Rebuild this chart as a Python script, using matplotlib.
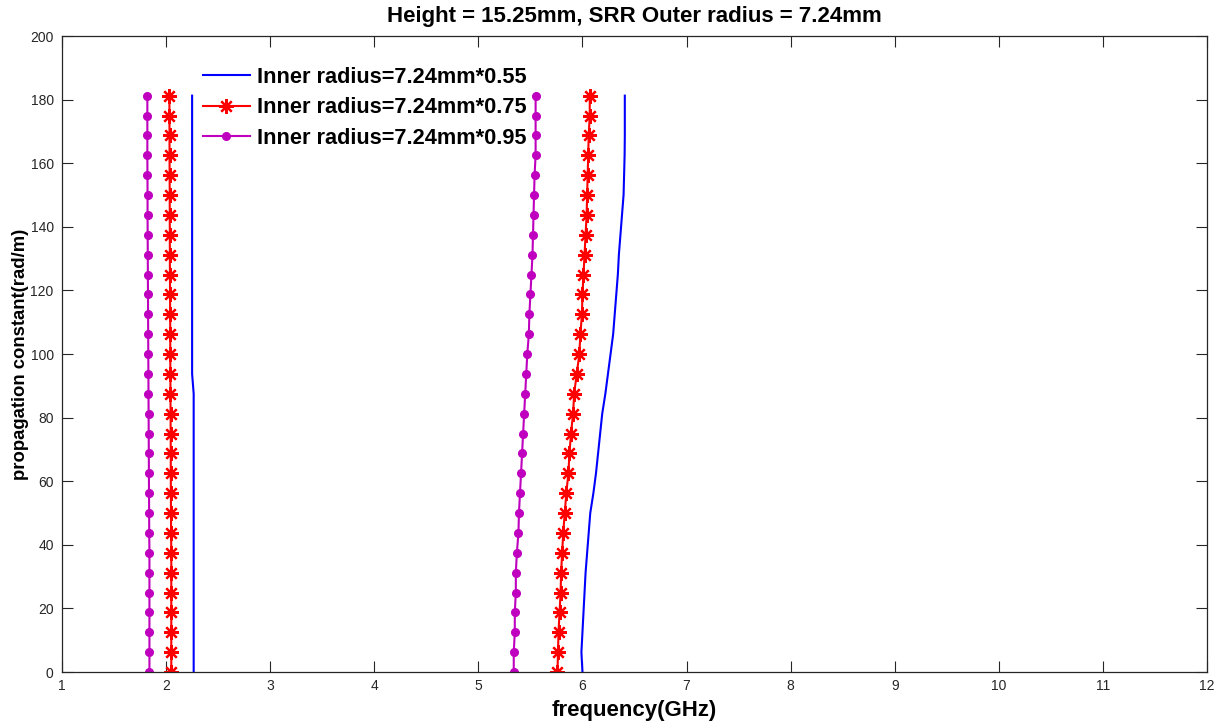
import matplotlib
matplotlib.use("Agg")
import matplotlib.pyplot as plt

plt.rcParams['font.family'] = ['Liberation Sans', 'DejaVu Sans']

# propagation constant (rad/m) sample points
beta = [0.0, 6.25, 12.5, 18.75, 25.0, 31.25, 37.5, 43.75, 50.0, 56.25,
        62.5, 68.75, 75.0, 81.25, 87.5, 93.75, 100.0, 106.25, 112.5, 118.75,
        125.0, 131.25, 137.5, 143.75, 150.0, 156.25, 162.5, 168.75, 175.0, 181.25]

# Inner radius = 7.24mm*0.55 (blue), two branches
f055_a = [2.265, 2.265, 2.265, 2.265, 2.265, 2.265, 2.265, 2.265, 2.265, 2.265,
          2.265, 2.265, 2.265, 2.265, 2.265, 2.25, 2.25, 2.25, 2.25, 2.25,
          2.25, 2.25, 2.25, 2.25, 2.25, 2.25, 2.25, 2.25, 2.25, 2.25]
f055_b = [6.00, 5.99, 6.00, 6.01, 6.02, 6.03, 6.045, 6.06, 6.075, 6.105,
          6.13, 6.15, 6.17, 6.19, 6.22, 6.245, 6.27, 6.295, 6.31, 6.325,
          6.34, 6.35, 6.365, 6.38, 6.395, 6.40, 6.405, 6.407, 6.407, 6.407]

# Inner radius = 7.24mm*0.75 (red, asterisks)
f075_a = [2.05, 2.05, 2.05, 2.05, 2.05, 2.05, 2.05, 2.048, 2.047, 2.046,
          2.045, 2.045, 2.044, 2.043, 2.042, 2.041, 2.04, 2.04, 2.039, 2.038,
          2.037, 2.036, 2.036, 2.035, 2.035, 2.034, 2.033, 2.033, 2.032, 2.032]
f075_b = [5.76, 5.765, 5.77, 5.78, 5.79, 5.795, 5.805, 5.815, 5.83, 5.845,
          5.865, 5.875, 5.89, 5.91, 5.92, 5.945, 5.97, 5.98, 5.995, 6.00,
          6.01, 6.02, 6.03, 6.04, 6.045, 6.05, 6.055, 6.06, 6.07, 6.07]

# Inner radius = 7.24mm*0.95 (magenta, dots)
f095_a = [1.84, 1.84, 1.84, 1.84, 1.84, 1.84, 1.84, 1.838, 1.837, 1.836,
          1.835, 1.834, 1.833, 1.832, 1.831, 1.83, 1.829, 1.828, 1.827, 1.826,
          1.825, 1.824, 1.823, 1.822, 1.822, 1.821, 1.82, 1.82, 1.82, 1.82]
f095_b = [5.34, 5.34, 5.35, 5.35, 5.36, 5.36, 5.37, 5.385, 5.39, 5.40,
          5.41, 5.42, 5.43, 5.44, 5.45, 5.46, 5.47, 5.485, 5.49, 5.50,
          5.51, 5.52, 5.525, 5.53, 5.535, 5.54, 5.55, 5.55, 5.55, 5.55]

labels = ['Inner radius=7.24mm*0.55', 'Inner radius=7.24mm*0.75',
          'Inner radius=7.24mm*0.95']
xticks = list(range(1, 13))
yticks = list(range(0, 201, 20))

fig = plt.figure(figsize=(12.3, 7.23), dpi=100)
ax = fig.add_axes([62/1230, 51/723, 1145/1230, 636/723])

magenta = '#BF00BF'
aster = (8, 2, 0)

ax.plot(f055_a, beta, color='blue', lw=1.5, label=labels[0])
ax.plot(f055_b, beta, color='blue', lw=1.5)
ax.plot(f075_a, beta, color='red', lw=1.5, marker=aster, ms=10.5, mew=1.6,
        mec='red', label=labels[1])
ax.plot(f075_b, beta, color='red', lw=1.5, marker=aster, ms=10.5, mew=1.6, mec='red')
ax.plot(f095_a, beta, color=magenta, lw=1.5, marker='o', ms=5.5, mec=magenta,
        mfc=magenta, label=labels[2])
ax.plot(f095_b, beta, color=magenta, lw=1.5, marker='o', ms=5.5, mec=magenta,
        mfc=magenta)

ax.set_xlim(1, 12)
ax.set_ylim(0, 200)
ax.set_xticks(xticks)
ax.set_yticks(yticks)
ax.tick_params(direction='in', top=True, right=True, length=8, width=0.8,
               labelsize=10, colors='#262626', pad=5)
ax.tick_params(axis='y', pad=6)
for sp in ax.spines.values():
    sp.set_color('#262626')
    sp.set_linewidth(0.9)

ax.set_title('Height = 15.25mm, SRR Outer radius = 7.24mm', fontsize=16,
             fontweight='bold', pad=10)
ax.set_xlabel('frequency(GHz)', fontsize=16, fontweight='bold', labelpad=5)
ax.set_ylabel('propagation constant(rad/m)', fontsize=13.3, fontweight='bold',
              labelpad=1)

leg = ax.legend(loc='upper left', bbox_to_anchor=(141/1145, 605/636),
                frameon=False, borderpad=0, borderaxespad=0,
                handlelength=2.15, handletextpad=0.32, labelspacing=0.43,
                prop={'family': ['Liberation Sans'], 'weight': 'bold', 'size': 15.7})

fig.savefig('out.png', dpi=100)
